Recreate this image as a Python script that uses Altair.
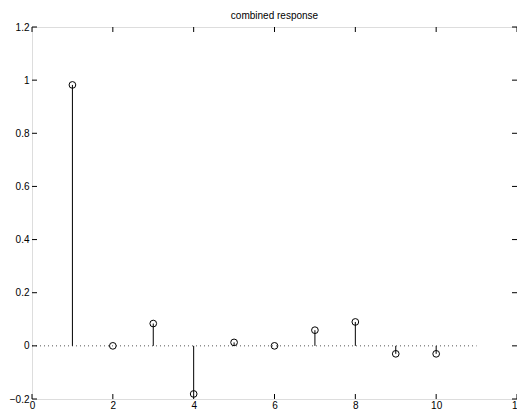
import altair as alt
import pandas as pd

n = [1, 2, 3, 4, 5, 6, 7, 8, 9, 10]
values = [0.982, 0.0, 0.084, -0.181, 0.013, 0.0, 0.059, 0.09, -0.030, -0.030]
x_ticks = [0, 2, 4, 6, 8, 10, 12]
y_ticks = [-0.2, 0, 0.2, 0.4, 0.6, 0.8, 1.0, 1.2]
baseline_start = [0]
baseline_end = [11]
baseline_level = [0]
title = "combined response"

W, H = 485, 372
FONT = "Liberation Sans"

df = pd.DataFrame({"n": n, "v": values, "zero": [0] * len(n)})
bl = pd.DataFrame({"xs": baseline_start, "xe": baseline_end, "y": baseline_level})
xt = pd.DataFrame({"t": x_ticks})
yt = pd.DataFrame({"t": y_ticks})

xs = alt.Scale(domain=[0, 12], nice=False, zero=False)
ys = alt.Scale(domain=[-0.2, 1.2], nice=False, zero=False)

xaxis = alt.Axis(values=x_ticks, ticks=False, domain=False, grid=False,
                 labelFont=FONT, labelFontSize=10, labelColor="black",
                 labelPadding=1, title=None, labelFlush=False)
yaxis = alt.Axis(values=y_ticks, ticks=False, domain=False, grid=False,
                 labelFont=FONT, labelFontSize=10, labelColor="black",
                 labelPadding=3, title=None, format="~g")

baseline = alt.Chart(bl).mark_rule(
    color="#555555", strokeDash=[1, 3], strokeWidth=1
).encode(
    x=alt.X("xs:Q", scale=xs, axis=xaxis),
    x2="xe:Q",
    y=alt.Y("y:Q", scale=ys, axis=yaxis),
)

stems = alt.Chart(df).mark_rule(color="black", strokeWidth=1).encode(
    x=alt.X("n:Q", scale=xs),
    y=alt.Y("zero:Q", scale=ys),
    y2="v:Q",
)

points = alt.Chart(df).mark_point(
    shape="circle", filled=False, color="black", size=45, strokeWidth=1, opacity=1
).encode(
    x=alt.X("n:Q", scale=xs),
    y=alt.Y("v:Q", scale=ys),
)

tick_len = 5
xb = alt.Chart(xt).mark_rule(color="black").encode(
    x=alt.X("t:Q", scale=xs), y=alt.value(H), y2=alt.value(H - tick_len))
xtop = alt.Chart(xt).mark_rule(color="black").encode(
    x=alt.X("t:Q", scale=xs), y=alt.value(0), y2=alt.value(tick_len))
yl = alt.Chart(yt).mark_rule(color="black").encode(
    y=alt.Y("t:Q", scale=ys), x=alt.value(0), x2=alt.value(tick_len))
yr = alt.Chart(yt).mark_rule(color="black").encode(
    y=alt.Y("t:Q", scale=ys), x=alt.value(W), x2=alt.value(W - tick_len))

chart = alt.layer(baseline, stems, points, xb, xtop, yl, yr).properties(
    width=W, height=H,
    title=alt.TitleParams(title, font=FONT, fontSize=10, fontWeight="normal",
                          color="black", offset=1),
    autosize=alt.AutoSizeParams(type="none"),
    padding={"left": 24, "top": 19, "right": 0, "bottom": 10},
).configure_view(stroke="black", strokeWidth=2).configure(background="white")

chart.save("out.html", embed_options={"renderer": "svg", "actions": False})
